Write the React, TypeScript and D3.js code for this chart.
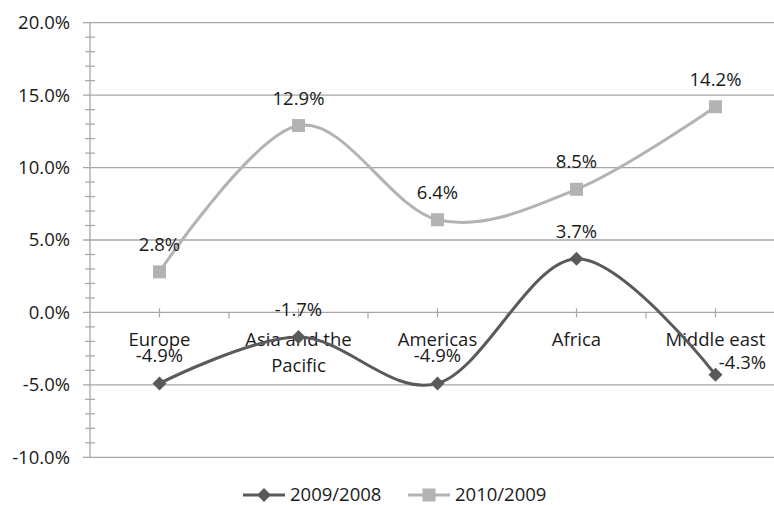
import React from "react";
import * as d3 from "d3";

const categories = ["Europe", "Asia and the Pacific", "Americas", "Africa", "Middle east"];
const series2009 = [-4.9, -1.7, -4.9, 3.7, -4.3];
const series2010 = [2.8, 12.9, 6.4, 8.5, 14.2];
const yTicks = [-10, -5, 0, 5, 10, 15, 20];
const seriesNames = ["2009/2008", "2010/2009"];

const W = 774;
const H = 505;
const FONT = "'Open Sans', Lato, sans-serif";
const FS = 18.5;
const TEXT = "#1a1a1a";
const DARK = "#5a5a5a";
const LIGHT = "#b3b3b3";
const GRID = "#a6a6a6";

export default function App() {
  const x = d3.scaleBand<string>().domain(categories).range([90, 785]).padding(0);
  const y = d3.scaleLinear().domain([-10, 20]).range([457.3, 22.7]);
  const cx = (c: string) => (x(c) as number) + x.bandwidth() / 2;

  const line = d3
    .line<number>()
    .x((_, i) => cx(categories[i]))
    .y((d) => y(d))
    .curve(d3.curveCardinal.tension(0));

  const minor = d3.range(-10, 20.001, 1).filter((v) => Math.round(v) % 5 !== 0);
  const y0 = y(0);

  const diamond = (px: number, py: number, r: number) =>
    `M${px},${py - r}L${px + r},${py}L${px},${py + r}L${px - r},${py}Z`;

  return (
    <svg width={W} height={H} style={{ position: "absolute", left: 0, top: 0, background: "#fff" }} fontFamily={FONT}>
      <rect x={0} y={0} width={W} height={H} fill="#fff" />
      {/* gridlines */}
      {yTicks.map((t) => (
        <line key={"g" + t} x1={83} x2={785} y1={y(t)} y2={y(t)} stroke={GRID} strokeWidth={1.3} />
      ))}
      {/* y axis */}
      <line x1={90} x2={90} y1={y(20)} y2={y(-10)} stroke={GRID} strokeWidth={1.3} />
      {minor.map((t) => (
        <line key={"m" + t} x1={85} x2={95} y1={y(t)} y2={y(t)} stroke={GRID} strokeWidth={1.2} />
      ))}
      {yTicks.map((t) => (
        <text key={"yt" + t} x={70} y={y(t)} dy="0.35em" textAnchor="end" fontSize={FS} fill={TEXT}>
          {t.toFixed(1) + "%"}
        </text>
      ))}
      {/* x axis ticks */}
      {categories.map((c) => (
        <line key={"xc" + c} x1={cx(c)} x2={cx(c)} y1={y0 - 4} y2={y0 + 5} stroke={GRID} strokeWidth={1.2} />
      ))}
      {categories.slice(1).map((c) => (
        <line key={"xb" + c} x1={x(c) as number} x2={x(c) as number} y1={y0} y2={y0 + 6} stroke={GRID} strokeWidth={1.2} />
      ))}
      {/* category labels */}
      {categories.map((c) => {
        const lines = c === "Asia and the Pacific" ? ["Asia and the", "Pacific"] : [c];
        return (
          <text key={"cl" + c} x={cx(c)} y={346} textAnchor="middle" fontSize={FS} fill={TEXT}>
            {lines.map((l, i) => (
              <tspan key={i} x={cx(c)} dy={i === 0 ? 0 : 25.5}>
                {l}
              </tspan>
            ))}
          </text>
        );
      })}
      {/* series lines */}
      <path d={line(series2010) || ""} fill="none" stroke={LIGHT} strokeWidth={3} />
      <path d={line(series2009) || ""} fill="none" stroke={DARK} strokeWidth={3} />
      {series2010.map((v, i) => (
        <rect key={"s" + i} x={cx(categories[i]) - 6.5} y={y(v) - 6.5} width={13} height={13} fill={LIGHT} />
      ))}
      {series2009.map((v, i) => (
        <path key={"d" + i} d={diamond(cx(categories[i]), y(v), 7)} fill={DARK} />
      ))}
      {/* data labels */}
      {series2010.map((v, i) => (
        <text key={"l10" + i} x={cx(categories[i])} y={y(v) - 21} textAnchor="middle" fontSize={FS} fill={TEXT}>
          {v.toFixed(1) + "%"}
        </text>
      ))}
      {series2009.map((v, i) => {
        const last = i === categories.length - 1;
        return (
          <text
            key={"l09" + i}
            x={cx(categories[i]) + (last ? 27 : 0)}
            y={y(v) - (last ? 6 : 21)}
            textAnchor="middle"
            fontSize={FS}
            fill={TEXT}
          >
            {v.toFixed(1) + "%"}
          </text>
        );
      })}
      {/* legend */}
      <g>
        <line x1={243} x2={285} y1={495} y2={495} stroke={DARK} strokeWidth={3} />
        <path d={diamond(264, 495, 7)} fill={DARK} />
        <text x={290} y={495} dy="0.35em" fontSize={FS} fill={TEXT}>
          {seriesNames[0]}
        </text>
        <line x1={408} x2={450} y1={495} y2={495} stroke={LIGHT} strokeWidth={3} />
        <rect x={422.5} y={488.5} width={13} height={13} fill={LIGHT} />
        <text x={455} y={495} dy="0.35em" fontSize={FS} fill={TEXT}>
          {seriesNames[1]}
        </text>
      </g>
    </svg>
  );
}
